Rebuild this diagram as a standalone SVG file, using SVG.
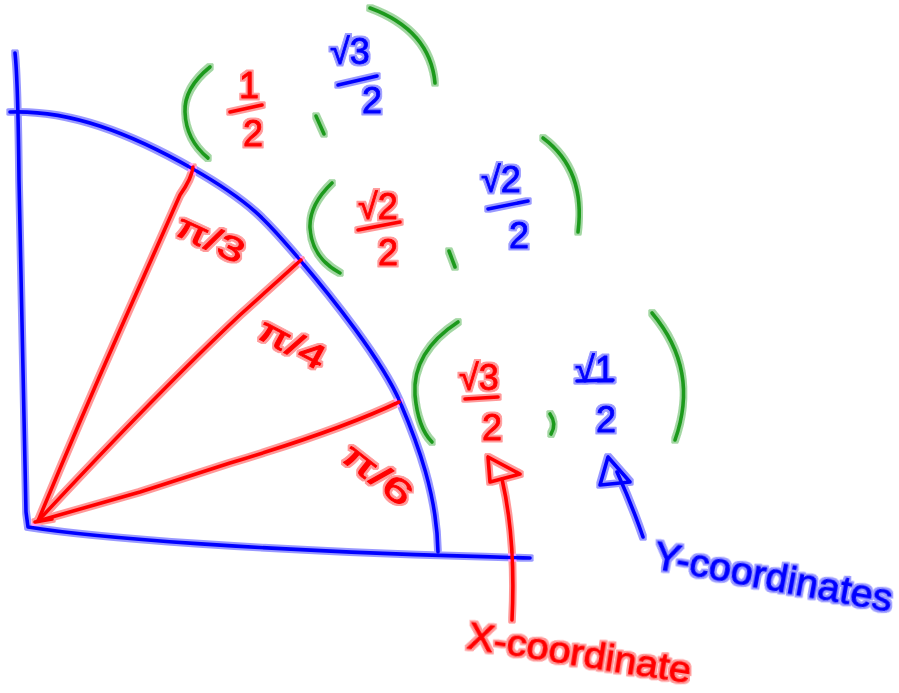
<svg xmlns="http://www.w3.org/2000/svg" width="899" height="693" viewBox="0 0 899 693">
<defs>
<filter id="glow" x="-10%" y="-10%" width="120%" height="120%">
<feMorphology in="SourceGraphic" operator="dilate" radius="2.2" result="d"/>
<feComponentTransfer in="d" result="h"><feFuncA type="linear" slope="0.4"/></feComponentTransfer>
<feMerge><feMergeNode in="h"/><feMergeNode in="SourceGraphic"/></feMerge>
</filter>
<style>
.ln{fill:none;stroke-width:3.6;stroke-linecap:round;stroke-linejoin:round}
.b{stroke:#0000ff}.r{stroke:#ff0000}.g{stroke:#1e9a1e}
.t{font-family:"Liberation Sans","DejaVu Sans",sans-serif;stroke-width:0.8;stroke-linejoin:round}
.tr{fill:#ff0000;stroke:#ff0000}.tb{fill:#0000ff;stroke:#0000ff}
.fx{font-size:36px;text-anchor:middle}
</style>
</defs>
<rect width="899" height="693" fill="#ffffff"/>
<g filter="url(#glow)">
<g id="axes">
<path class="ln b" d="M15,53 Q18,80 19,180 L26,512 L28,527 C90,537 250,551 530,558"/>
</g>
<g id="arc">
<path class="ln b" d="M10,112 C70,110 130,133 193,169 S270,225 300,260 S382,360 400,402 S437,495 438,552"/>
</g>
<g id="rays">
<path class="ln r" d="M35,522 L52,519"/>
<path class="ln r" d="M38,521 Q80,420 120,330 L180,195 Q192,178 193,167"/>
<path class="ln r" d="M38,521 Q160,390 240,315 L301,260"/>
<path class="ln r" d="M38,521 L140,492 L230,463 Q340,430 399,402"/>
</g>
<g id="angle-labels">
<text class="t tr" font-size="34" transform="translate(173,234) rotate(25)" textLength="72" lengthAdjust="spacingAndGlyphs">π/3</text>
<text class="t tr" font-size="34" transform="translate(255,337) rotate(28)" textLength="72" lengthAdjust="spacingAndGlyphs">π/4</text>
<text class="t tr" font-size="34" transform="translate(339,459) rotate(38)" textLength="80" lengthAdjust="spacingAndGlyphs">π/6</text>
</g>
<g id="point-pi3">
<path class="ln g" d="M210,67 Q184,88 185,112 Q186,140 208,158"/>
<path class="ln g" d="M316,116 L324,134"/>
<path class="ln g" d="M370,8 Q430,30 435,83"/>
<text class="t tr fx" x="249" y="98" font-size="36">1</text>
<path class="ln r" d="M230,112 L262,105"/>
<text class="t tr fx" x="253" y="146" font-size="36">2</text>
<text class="t tb fx" x="350" y="64" font-size="36">√3</text>
<path class="ln b" d="M338,85 L377,76"/>
<text class="t tb fx" x="372" y="113" font-size="36">2</text>
</g>
<g id="point-pi4">
<path class="ln g" d="M332,183 Q309,205 310,228 Q312,258 340,273"/>
<path class="ln g" d="M449,251 L455,267"/>
<path class="ln g" d="M543,138 Q586,170 578,232"/>
<text class="t tr fx" x="378" y="219" font-size="36">√2</text>
<path class="ln r" d="M358,230 L400,222"/>
<text class="t tr fx" x="388" y="265" font-size="36">2</text>
<text class="t tb fx" x="501" y="192" font-size="36">√2</text>
<path class="ln b" d="M488,209 L528,201"/>
<text class="t tb fx" x="519" y="248" font-size="36">2</text>
</g>
<g id="point-pi6">
<path class="ln g" d="M458,322 Q412,352 415,395 Q418,428 432,442"/>
<path class="ln g" d="M550,414 Q557,424 551,434"/>
<path class="ln g" d="M652,313 Q700,370 675,440"/>
<text class="t tr fx" x="479" y="390" font-size="36">√3</text>
<path class="ln r" d="M465,399 L498,397"/>
<text class="t tr fx" x="492" y="440" font-size="36">2</text>
<text class="t tb fx" x="595" y="382" font-size="40">√1</text>
<path class="ln b" d="M577,381 L613,380"/>
<text class="t tb fx" x="606" y="432" font-size="36">2</text>
</g>
<g id="connectors">
<path class="ln r" d="M488,457 L490,482 L520,474 Z"/>
<path class="ln r" d="M502,479 Q516,540 512,620"/>
<path class="ln b" d="M608,457 L600,485 L630,482 Z"/>
<path class="ln b" d="M617,472 Q632,505 643,537"/>
</g>
<g id="x-label">
<text class="t tr" font-size="36" transform="translate(466,648) rotate(9)" textLength="226" lengthAdjust="spacingAndGlyphs">X-coordinate</text>
</g>
<g id="y-label">
<text class="t tb" font-size="38" transform="translate(652,568) rotate(10.5)" textLength="242" lengthAdjust="spacingAndGlyphs">Y-coordinates</text>
</g>
</g>
</svg>
